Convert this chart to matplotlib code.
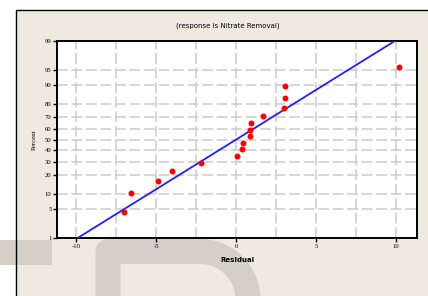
from statistics import NormalDist
import matplotlib.pyplot as plt
from matplotlib.patches import Rectangle
from matplotlib.path import Path
from matplotlib.patches import PathPatch
import numpy as np

# residuals (sorted) and their plotted percent values
residuals = [-7.04, -6.56, -4.90, -4.02, -2.19, 0.02, 0.36, 0.40,
             0.86, 0.86, 0.90, 1.67, 3.00, 3.04, 3.08, 10.17]
percents = [4.3, 10.4, 16.5, 22.6, 28.7, 34.8, 40.9, 47.0,
            53.0, 59.1, 65.2, 71.3, 77.4, 83.5, 89.6, 95.7]
y_ticks = [1, 5, 10, 20, 30, 40, 50, 60, 70, 80, 90, 95, 99]
x_ticks = [-10, -5, 0, 5, 10]
fit_mean = 0.0
fit_std = 4.26

nd = NormalDist()
z = lambda p: nd.inv_cdf(p / 100.0)

W, H = 428, 296
fig = plt.figure(figsize=(W / 100, H / 100), dpi=100)
fig.patch.set_facecolor('white')

# background layer in pixel coordinates
bg = fig.add_axes([0, 0, 1, 1], zorder=0)
bg.set_xlim(0, W)
bg.set_ylim(H, 0)
bg.axis('off')
bg.add_patch(Rectangle((16, 10), 600, 400, facecolor='#eeeae0',
                       edgecolor='none', zorder=1))
# faint watermark shapes
wm = '#d4d0c8'
bg.add_patch(Rectangle((0, 240), 52, 25, facecolor=wm, edgecolor='none', zorder=2))
verts = [(108, 300), (108, 251.5), (200, 251.5)]
codes = [Path.MOVETO, Path.LINETO, Path.LINETO]
th = np.linspace(-np.pi / 2, 0, 20)
for t in th:
    verts.append((200 + 48 * np.cos(t), 299.5 + 48 * np.sin(t)))
    codes.append(Path.LINETO)
verts.append((248, 310))
codes.append(Path.LINETO)
bg.add_patch(PathPatch(Path(verts, codes), facecolor='none', edgecolor=wm,
                       linewidth=18, capstyle='butt', joinstyle='round', zorder=2))
bg.plot([16, 16, 600], [300, 10, 10], color='black', lw=1.0, zorder=3)

bg.text(228, 26, '(response is Nitrate Removal)', ha='center', va='center',
        fontsize=5, family='DejaVu Sans')

ax = fig.add_axes([57 / W, (H - 238) / H, (417 - 57) / W, (238 - 41) / H], zorder=2)
ax.set_facecolor('white')

zt = [z(p) for p in y_ticks]
ax.set_ylim(zt[0], zt[-1])
ax.set_xlim(-11.2, 11.3)

for v in np.arange(-10, 11, 2.5):
    ax.axvline(v, color='#cccccc', lw=1.1, ls=(0, (7, 2.5)), zorder=1)
for v in zt[1:-1]:
    ax.axhline(v, color='#cccccc', lw=1.1, ls=(0, (7, 2.5)), zorder=1)

zl = np.array([zt[0], zt[-1]])
ax.plot(fit_mean + fit_std * zl, zl, color='#2020ff', lw=1.3, zorder=3)
ax.plot(residuals, [z(p) for p in percents], 'o', color='#ff0000',
        ms=4.3, mec='none', zorder=4)

ax.set_yticks(zt)
ax.set_yticklabels([str(p) for p in y_ticks])
ax.set_xticks(x_ticks)
ax.set_xticklabels([str(v) for v in x_ticks])
ax.tick_params(direction='out', length=3, width=1.0, labelsize=4.8, pad=1)
for lab in ax.get_xticklabels() + ax.get_yticklabels():
    lab.set_family('Liberation Serif')
for s in ax.spines.values():
    s.set_linewidth(1.4)

ax.set_xlabel('Residual', fontsize=5, fontweight='bold', labelpad=6)
ax.set_ylabel('Percent', fontsize=5, family='Liberation Serif', labelpad=6)

fig.savefig('out.png', dpi=100)
